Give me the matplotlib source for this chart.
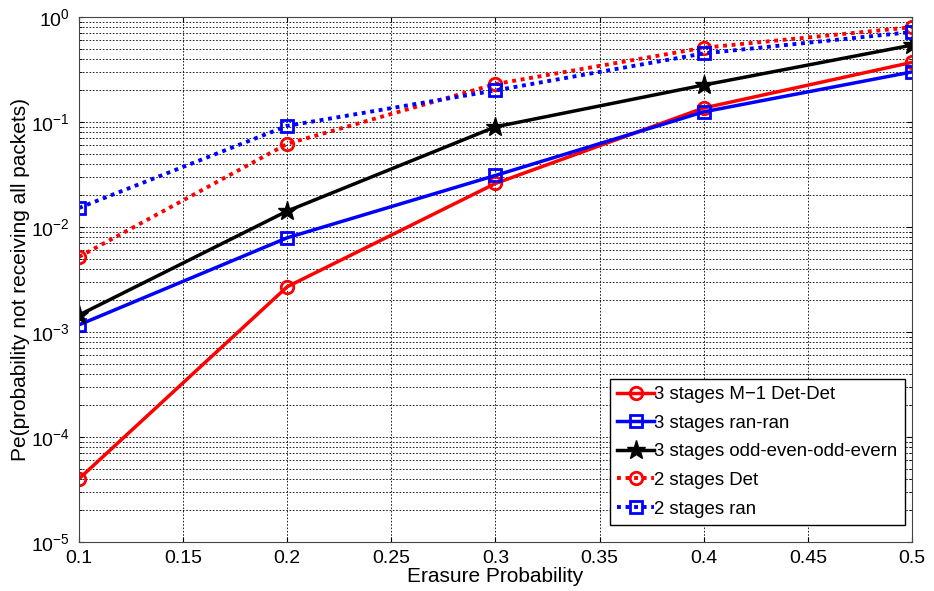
import matplotlib

matplotlib.use("Agg")
import matplotlib.pyplot as plt

plt.rcParams["font.family"] = ["Liberation Sans", "DejaVu Sans"]

erasure = [0.1, 0.2, 0.3, 0.4, 0.5]
det_det_3 = [4.0e-5, 2.7e-3, 0.026, 0.136, 0.37]
ran_ran_3 = [1.17e-3, 7.9e-3, 0.031, 0.125, 0.30]
odd_even_3 = [1.45e-3, 0.0142, 0.090, 0.225, 0.54]
det_2 = [5.2e-3, 0.062, 0.23, 0.51, 0.80]
ran_2 = [0.0152, 0.092, 0.20, 0.45, 0.72]

labels = [
    "3 stages M\u22121 Det-Det",
    "3 stages ran-ran",
    "3 stages odd-even-odd-evern",
    "2 stages Det",
    "2 stages ran",
]
xticks = [0.1, 0.15, 0.2, 0.25, 0.3, 0.35, 0.4, 0.45, 0.5]

fig = plt.figure(figsize=(9.34, 5.91), dpi=100)
ax = fig.add_axes([0.0846, 0.0829, 0.8918, 0.8883])

dot = (0, (1, 1.2))
ax.plot(erasure, det_det_3, "-", color="red", lw=2.5, marker="o",
        ms=9, mfc="none", mew=2, label=labels[0])
ax.plot(erasure, ran_ran_3, "-", color="blue", lw=2.5, marker="s",
        ms=8, mfc="none", mew=2, label=labels[1])
ax.plot(erasure, odd_even_3, "-", color="black", lw=2.5, marker="*",
        ms=14, mfc="black", label=labels[2])
ax.plot(erasure, det_2, linestyle=dot, color="red", lw=2.8, marker="o",
        ms=9, mfc="none", mew=2, label=labels[3])
ax.plot(erasure, ran_2, linestyle=dot, color="blue", lw=2.8, marker="s",
        ms=8, mfc="none", mew=2, label=labels[4])

ax.set_yscale("log")
ax.set_xlim(0.1, 0.5)
ax.set_ylim(1e-5, 1)
ax.set_xticks(xticks)
ax.set_xticklabels([f"{v:g}" for v in xticks])
ax.grid(True, which="major", color="black", linestyle=(0, (2, 2)), lw=0.6)
ax.grid(True, which="minor", axis="y", color="black", linestyle=(0, (2, 2)), lw=0.6)
ax.tick_params(which="both", direction="in", labelsize=14, top=True, right=True)
ax.tick_params(axis="x", pad=5.5)
ax.tick_params(axis="y", pad=6.5)
for spine in ax.spines.values():
    spine.set_color("#444444")

ax.set_xlabel("Erasure Probability", fontsize=15, labelpad=0)
ax.set_ylabel("Pe(probability not receiving all packets)", fontsize=15, labelpad=1)

leg = ax.legend(loc="lower right", bbox_to_anchor=(0.9916, 0.0324),
                fontsize=13.4, fancybox=False, framealpha=1,
                edgecolor="black", handlelength=2.0, handletextpad=0.0,
                borderaxespad=0, labelspacing=0.62, borderpad=0.4)
leg.get_frame().set_linewidth(1.0)

fig.savefig("out.png", dpi=100)
